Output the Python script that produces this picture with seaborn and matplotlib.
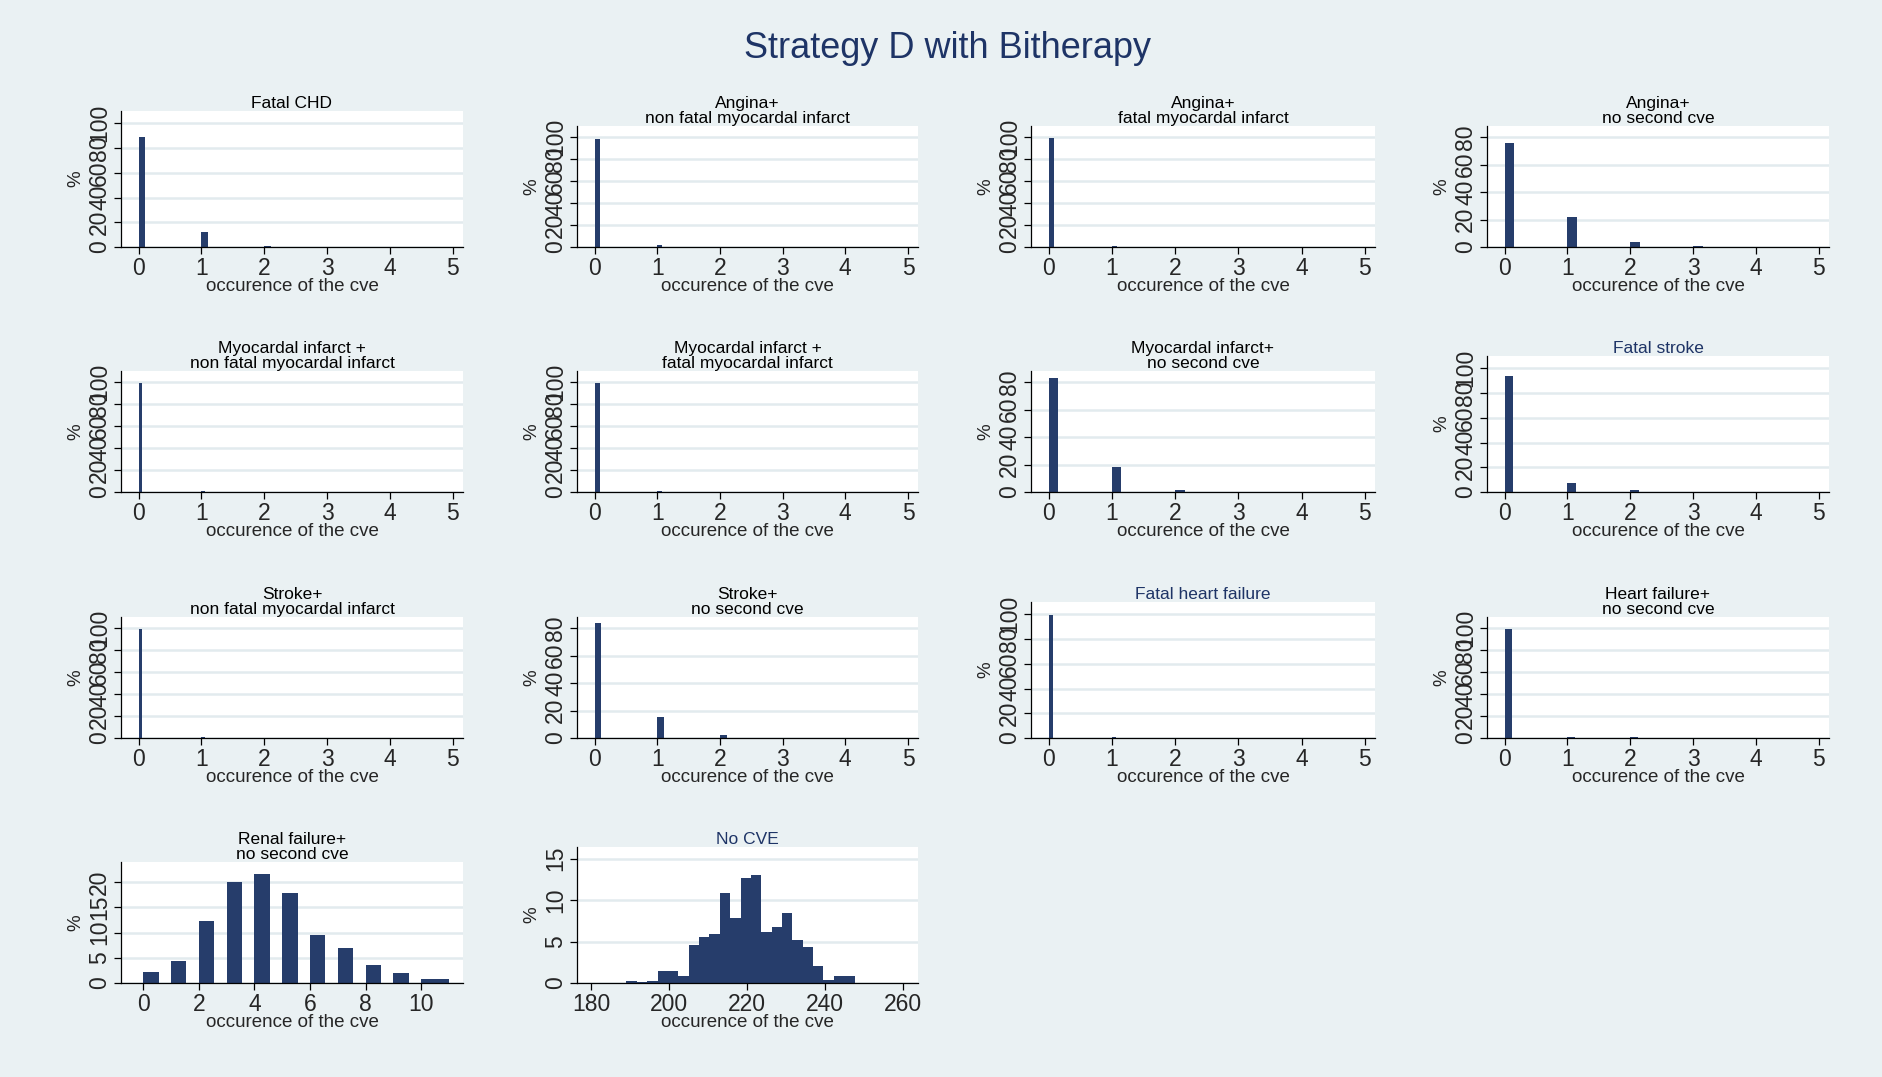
import matplotlib
matplotlib.use("Agg")
import matplotlib.pyplot as plt
import numpy as np
import seaborn as sns

sns.set_style("white")
plt.rcParams['font.family'] = ['Liberation Sans', 'DejaVu Sans']

# ---- data (percent of simulations) ----
occurrences = [0, 1, 2, 3, 4, 5]

fatal_chd = [89, 12, 1, 0, 0, 0]
angina_nonfatal_mi = [98.5, 1.5, 0, 0, 0, 0]
angina_fatal_mi = [99.5, 0.6, 0, 0, 0, 0]
angina_no_second = [76, 21.7, 3.4, 1, 0, 0]
mi_nonfatal_mi = [99, 1, 0, 0, 0, 0]
mi_fatal_mi = [99.5, 0.6, 0, 0, 0, 0]
mi_no_second = [83, 18, 1.2, 0, 0, 0]
fatal_stroke = [94, 7, 1.3, 0, 0, 0]
stroke_nonfatal_mi = [99.5, 0.5, 0, 0, 0, 0]
stroke_no_second = [83.5, 15, 2.5, 0, 0, 0]
fatal_hf = [99.5, 0.5, 0, 0, 0, 0]
hf_no_second = [99, 0.5, 0.5, 0, 0, 0]

renal_occ = [0, 1, 2, 3, 4, 5, 6, 7, 8, 9, 10]
renal_pct = [2.2, 4.4, 12.3, 20.0, 21.6, 17.8, 9.6, 7.0, 3.5, 1.9, 0.7]

nocve_start = 189.0
nocve_binw = 2.66
nocve_pct = [0.3, 0.15, 0.3, 1.4, 1.5, 0.8, 4.6, 5.6, 5.9, 10.8, 7.8,
             12.7, 13.0, 6.2, 6.8, 8.4, 5.2, 4.4, 2.0, 0.35, 0.8, 0.8]

small_titles = [
    "Fatal CHD", "Angina+\nnon fatal myocardal infarct",
    "Angina+\nfatal myocardal infarct", "Angina+\nno second cve",
    "Myocardal infarct +\nnon fatal myocardal infarct",
    "Myocardal infarct +\nfatal myocardal infarct",
    "Myocardal infarct+\nno second cve", "Fatal stroke",
    "Stroke+\nnon fatal myocardal infarct", "Stroke+\nno second cve",
    "Fatal heart failure", "Heart failure+\nno second cve",
]
small_data = [fatal_chd, angina_nonfatal_mi, angina_fatal_mi, angina_no_second,
              mi_nonfatal_mi, mi_fatal_mi, mi_no_second, fatal_stroke,
              stroke_nonfatal_mi, stroke_no_second, fatal_hf, hf_no_second]
# y-axis top label of each small panel
small_ymax = [100, 100, 100, 80, 100, 100, 80, 100, 100, 80, 100, 100]
navy_titles = ["Fatal stroke", "Fatal heart failure", "No CVE"]

# ---- style / layout ----
W, H = 1883, 1077
BG = "#EAF1F3"
GRID = "#E2EBEE"
BAR = "#263D6B"
NAVY = "#1E3466"
bar_w = [0.1, 0.08, 0.08, 0.15, 0.06, 0.08, 0.15, 0.13, 0.06, 0.11, 0.07, 0.12]

col_left = [121, 577, 1031, 1487]
col_right = [463, 918, 1375, 1829]
row_bottom = [247, 492, 738, 983]

fig = plt.figure(figsize=(W / 100, H / 100), dpi=100, facecolor=BG)


def make_ax(r, c, title):
    top = row_bottom[r] - (121 if "\n" in title else 136)
    l = col_left[c] / W
    b = 1 - row_bottom[r] / H
    ax = fig.add_axes([l, b, (col_right[c] - col_left[c]) / W,
                       (row_bottom[r] - top) / H])
    return ax


def style(ax, title, yticks, ylim, xlim):
    ax.set_facecolor("white")
    ax.set_ylim(*ylim)
    ax.set_xlim(*xlim)
    ax.set_yticks(yticks)
    ax.yaxis.grid(True, color=GRID, lw=1.8)
    ax.xaxis.grid(False)
    ax.set_axisbelow(True)
    for s in ["top", "right"]:
        ax.spines[s].set_visible(False)
    for s in ["left", "bottom"]:
        ax.spines[s].set_color("black")
        ax.spines[s].set_linewidth(0.9)
    ax.tick_params(axis="both", direction="out", length=5, width=0.9,
                   color="black", labelsize=16.5, pad=2, left=True, bottom=True)
    ax.tick_params(axis="y", labelrotation=90)
    for lab in ax.get_yticklabels():
        lab.set_va("center")
    ax.set_xlabel("occurence of the cve", fontsize=13.5, labelpad=-1)
    ax.set_ylabel("%", fontsize=13.5, labelpad=3)
    col = NAVY if title in navy_titles else "black"
    ax.set_title(title, fontsize=12.5, color=col, pad=2, linespacing=1.0)


for i, (title, vals) in enumerate(zip(small_titles, small_data)):
    r, c = divmod(i, 4)
    ax = make_ax(r, c, title)
    w = bar_w[i]
    edges = sorted(set([x for o in occurrences for x in (o, o + w)]))
    sns.histplot(x=occurrences, weights=vals, bins=edges, ax=ax, color=BAR,
                 alpha=1, linewidth=0, stat="count")
    ymax = small_ymax[i]
    style(ax, title, list(range(0, ymax + 1, 20)), (0, ymax * 1.1),
          (-0.28, 5.16))
    ax.set_xticks(occurrences)

# renal failure
title = "Renal failure+\nno second cve"
ax = make_ax(3, 0, title)
renal_edges = []
for o in renal_occ[:-1]:
    renal_edges += [o, o + 0.55]
renal_edges += [renal_occ[-1], renal_occ[-1] + 1]
sns.histplot(x=renal_occ, weights=renal_pct, bins=renal_edges, ax=ax,
             color=BAR, alpha=1, linewidth=0, stat="count")
style(ax, title, [0, 5, 10, 15, 20], (0, 24), (-0.8, 11.5))
ax.set_xticks([0, 2, 4, 6, 8, 10])

# no CVE
title = "No CVE"
ax = make_ax(3, 1, title)
nocve_edges = nocve_start + nocve_binw * np.arange(len(nocve_pct) + 1)
nocve_x = list((nocve_edges[:-1] + nocve_edges[1:]) / 2)
sns.histplot(x=nocve_x, weights=nocve_pct, bins=list(nocve_edges), ax=ax,
             color=BAR, alpha=1, linewidth=0, stat="count")
style(ax, title, [0, 5, 10, 15], (0, 16.4), (176.3, 263.8))
ax.set_xticks([180, 200, 220, 240, 260])

fig.text(0.503, 1 - 48 / H, "Strategy D with Bitherapy", ha="center",
         va="center", fontsize=26, color=NAVY)

fig.savefig("out.png", dpi=100, facecolor=BG)
